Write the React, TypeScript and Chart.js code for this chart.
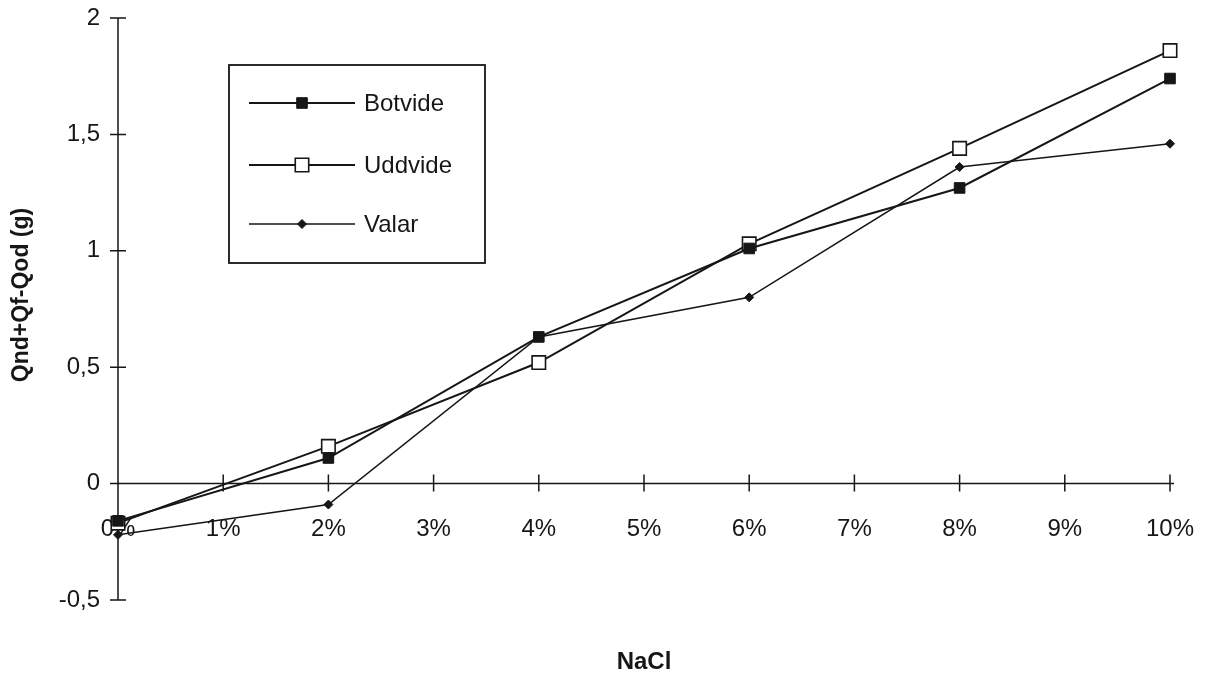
import React, { useEffect, useRef } from "react";
import { Chart, registerables } from "chart.js";

Chart.register(...registerables);

const xValues = [0, 2, 4, 6, 8, 10];
const botvide = [-0.16, 0.11, 0.63, 1.01, 1.27, 1.74];
const uddvide = [-0.17, 0.16, 0.52, 1.03, 1.44, 1.86];
const valar = [-0.22, -0.09, 0.63, 0.8, 1.36, 1.46];
const seriesNames = ["Botvide", "Uddvide", "Valar"];
const xTitle = "NaCl";
const yTitle = "Qnd+Qf-Qod (g)";
const xMin = 0;
const xMax = 10;
const yMin = -0.5;
const yMax = 2;

const FONT = "'Liberation Sans', Arial, Helvetica, sans-serif";
const INK = "#161616";

type Marker = { style: string; radius: number; fill: string; border: number };
const markers: Marker[] = [
  { style: "rect", radius: 7.5, fill: INK, border: 1 },
  { style: "rect", radius: 9.5, fill: "#ffffff", border: 1.6 },
  { style: "rectRot", radius: 4.5, fill: INK, border: 1 },
];

function drawMarker(ctx: CanvasRenderingContext2D, m: Marker, x: number, y: number) {
  ctx.save();
  ctx.beginPath();
  if (m.style === "rect") {
    const s = Math.SQRT1_2 * m.radius;
    ctx.rect(x - s, y - s, 2 * s, 2 * s);
  } else {
    ctx.moveTo(x, y - m.radius);
    ctx.lineTo(x + m.radius, y);
    ctx.lineTo(x, y + m.radius);
    ctx.lineTo(x - m.radius, y);
    ctx.closePath();
  }
  ctx.fillStyle = m.fill;
  ctx.fill();
  ctx.lineWidth = m.border;
  ctx.strokeStyle = INK;
  ctx.stroke();
  ctx.restore();
}

const crossAxesPlugin = {
  id: "crossAxes",
  beforeDatasetsDraw(chart: any) {
    const { ctx, scales } = chart;
    const xs = scales.x;
    const ys = scales.y;
    const x0 = xs.getPixelForValue(xMin);
    const y0 = ys.getPixelForValue(0);
    ctx.save();
    ctx.strokeStyle = INK;
    ctx.lineWidth = 1.5;
    ctx.beginPath();
    ctx.moveTo(x0, ys.getPixelForValue(yMax));
    ctx.lineTo(x0, ys.getPixelForValue(yMin));
    ys.ticks.forEach((t: any) => {
      const py = ys.getPixelForValue(t.value);
      ctx.moveTo(x0 - 8, py);
      ctx.lineTo(x0 + 8, py);
    });
    ctx.moveTo(x0, y0);
    ctx.lineTo(xs.getPixelForValue(xMax) + 4, y0);
    xs.ticks.forEach((t: any) => {
      if (t.value === xMin) return;
      const px = xs.getPixelForValue(t.value);
      ctx.moveTo(px, y0 - 9);
      ctx.lineTo(px, y0 + 8);
    });
    ctx.stroke();
    ctx.restore();
  },
};

const legendPlugin = {
  id: "boxLegend",
  afterDraw(chart: any) {
    const { ctx } = chart;
    const left = 229;
    const top = 65;
    const w = 256;
    const h = 198;
    ctx.save();
    ctx.strokeStyle = INK;
    ctx.lineWidth = 1.8;
    ctx.strokeRect(left, top, w, h);
    const rows = [103, 165, 224];
    chart.data.datasets.forEach((ds: any, i: number) => {
      const y = rows[i];
      ctx.beginPath();
      ctx.strokeStyle = INK;
      ctx.lineWidth = ds.borderWidth;
      ctx.moveTo(249, y);
      ctx.lineTo(355, y);
      ctx.stroke();
      drawMarker(ctx, markers[i], 302, y);
      ctx.fillStyle = INK;
      ctx.font = `24px ${FONT}`;
      ctx.textAlign = "left";
      ctx.textBaseline = "middle";
      ctx.fillText(ds.label, 364, y + 1);
    });
    const ca = chart.chartArea;
    ctx.fillStyle = INK;
    ctx.font = `bold 24px ${FONT}`;
    ctx.textAlign = "center";
    ctx.textBaseline = "middle";
    ctx.fillText(xTitle, (ca.left + ca.right) / 2, 662);
    ctx.save();
    ctx.translate(22, 295);
    ctx.rotate(-Math.PI / 2);
    ctx.font = `bold 23px ${FONT}`;
    ctx.fillText(yTitle, 0, 0);
    ctx.restore();
    ctx.restore();
  },
};

export default function App() {
  const ref = useRef<HTMLCanvasElement | null>(null);
  useEffect(() => {
    if (!ref.current) return;
    const series = [botvide, uddvide, valar];
    const widths = [2, 2, 1.6];
    const chart = new Chart(ref.current, {
      type: "line",
      data: {
        datasets: series.map((vals, i) => ({
          label: seriesNames[i],
          data: xValues.map((x, j) => ({ x, y: vals[j] })),
          borderColor: INK,
          borderWidth: widths[i],
          pointStyle: markers[i].style as any,
          pointRadius: markers[i].radius,
          pointHoverRadius: markers[i].radius,
          pointBackgroundColor: markers[i].fill,
          pointBorderColor: INK,
          pointBorderWidth: markers[i].border,
          tension: 0,
          fill: false,
          clip: false as any,
        })),
      },
      options: {
        animation: false,
        responsive: true,
        maintainAspectRatio: false,
        layout: { padding: { top: 18, right: 38, bottom: 80, left: 0 } },
        plugins: {
          legend: { display: false },
          tooltip: { enabled: false },
          title: { display: false },
        },
        scales: {
          x: {
            type: "linear",
            min: xMin,
            max: xMax,
            position: { y: 0 } as any,
            grid: { display: false, drawTicks: false },
            border: { display: false },
            afterFit: (scale: any) => {
              scale.paddingLeft = 0;
              scale.paddingRight = 0;
            },
            ticks: {
              stepSize: 1,
              autoSkip: false,
              maxRotation: 0,
              padding: 31,
              color: INK,
              font: { family: FONT, size: 24 },
              callback: (v: any) => `${v}%`,
            },
          },
          y: {
            type: "linear",
            min: yMin,
            max: yMax,
            position: "left",
            grid: { display: false, drawTicks: false },
            border: { display: false },
            afterFit: (scale: any) => {
              scale.width = 118;
              scale.paddingTop = 0;
              scale.paddingBottom = 0;
            },
            ticks: {
              stepSize: 0.5,
              padding: 18,
              color: INK,
              font: { family: FONT, size: 24 },
              callback: (v: any) => String(v).replace(".", ","),
            },
            title: { display: false },
          },
        },
      },
      plugins: [crossAxesPlugin, legendPlugin],
    });
    return () => chart.destroy();
  }, []);
  return (
    <div style={{ position: "absolute", left: 0, top: 0, width: 1208, height: 680, background: "#fff" }}>
      <canvas ref={ref} />
    </div>
  );
}
